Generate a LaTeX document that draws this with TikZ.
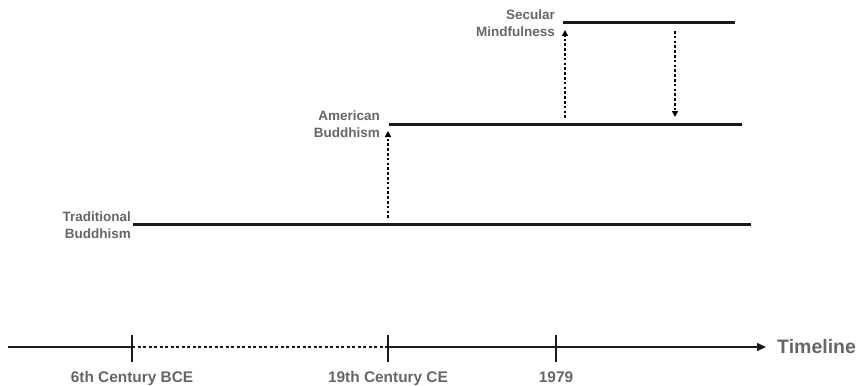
\documentclass[tikz,border=0pt]{standalone}
\usepackage{fontspec}
\setmainfont{Liberation Sans}
\usetikzlibrary{arrows.meta}
\definecolor{labelgray}{HTML}{666666}
\definecolor{linedark}{HTML}{1A1A1A}
\tikzset{
  x=1pt, y=-1pt,
  lbl/.style={text=labelgray, font=\bfseries\fontsize{13.5}{17.5}\selectfont, align=right, inner sep=0pt},
  ticklbl/.style={text=labelgray, font=\bfseries\fontsize{15.4}{18}\selectfont, inner sep=0pt, anchor=base},
  era/.style={draw=linedark, line width=3pt},
  axis/.style={draw=linedark, line width=1.4pt},
  tickmark/.style={draw=linedark, line width=1.2pt},
  flow/.style={draw=black, line width=2.2pt, dash pattern=on 2.6pt off 2.2pt, -{Triangle[length=6pt,width=6pt]}},
}
\begin{document}
\begin{tikzpicture}
\useasboundingbox (0,0) rectangle (858,385);
% timeline axis
\coordinate (a0) at (8,347);
\coordinate (t1) at (132,347);
\coordinate (t2) at (388,347);
\coordinate (t3) at (556,347);
\coordinate (aend) at (766,347);
\draw[axis] (a0) -- (t1);
\draw[axis, dash pattern=on 3pt off 2.5pt] (t1) -- (t2);
\draw[axis, -{Triangle[length=9pt,width=8pt]}] (t2) -- (aend);
\foreach \t in {t1,t2,t3} \draw[tickmark] ([yshift=-15pt]\t) -- ([yshift=12pt]\t);
\node[text=labelgray, font=\bfseries\fontsize{19.5}{22}\selectfont, anchor=west, inner sep=0pt] (tl) at (777,347) {Timeline};
\node[ticklbl] (l1) at (132,382) {6th Century BCE};
\node[ticklbl] (l2) at (388,382) {19th Century CE};
\node[ticklbl] (l3) at (556,382) {1979};
% eras
\coordinate (tb0) at (133,224); \coordinate (tb1) at (751,224);
\coordinate (ab0) at (389,124); \coordinate (ab1) at (742,124);
\coordinate (sm0) at (563,23); \coordinate (sm1) at (735,23);
\draw[era] (tb0) -- (tb1);
\draw[era] (ab0) -- (ab1);
\draw[era] (sm0) -- (sm1);
\node[lbl, anchor=east] (tbl) at (131,225) {Traditional\\Buddhism};
\node[lbl, anchor=east] (abl) at (380,124) {American\\Buddhism};
\node[lbl, anchor=east] (sml) at (555,23) {Secular\\Mindfulness};
% flows
\coordinate (f1a) at (388,218); \coordinate (f1b) at (388,131);
\coordinate (f2a) at (565,118); \coordinate (f2b) at (565,30);
\coordinate (f3a) at (675,31); \coordinate (f3b) at (675,117);
\draw[flow] (f1a) -- (f1b);
\draw[flow] (f2a) -- (f2b);
\draw[flow] (f3a) -- (f3b);
\end{tikzpicture}
\end{document}
